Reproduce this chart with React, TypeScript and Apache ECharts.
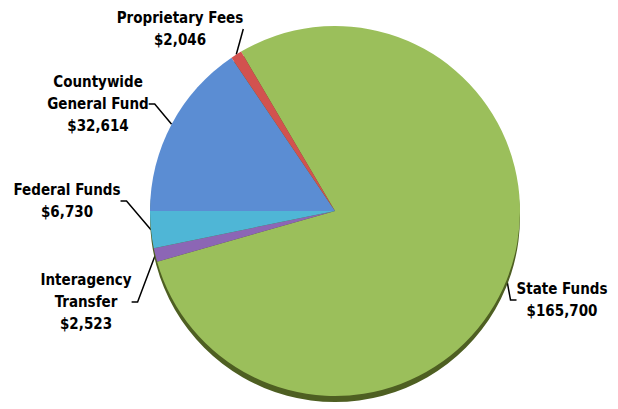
import React, { useEffect, useRef } from "react";
import * as echarts from "echarts";

const categories = [
  "State Funds",
  "Interagency\nTransfer",
  "Federal Funds",
  "Countywide\nGeneral Fund",
  "Proprietary Fees",
];
const values = [165700, 2523, 6730, 32614, 2046];
const colors = ["#9BBF5B", "#8C66B5", "#4FB6D6", "#5B8DD3", "#D2524F"];
const labelPos: [number, number][] = [
  [562, 300],
  [86, 302],
  [67, 201],
  [98, 104],
  [180, 29],
];

const fmt = (v: number) => "$" + v.toLocaleString("en-US");

export default function App() {
  const ref = useRef<HTMLDivElement>(null);
  useEffect(() => {
    const chart = echarts.init(ref.current!, null, { renderer: "svg" });
    const total = values.reduce((a, b) => a + b, 0);
    const font = "'Liberation Sans Narrow', 'Arial Narrow', 'DejaVu Sans Condensed', sans-serif";
    chart.setOption({
      animation: false,
      backgroundColor: "#ffffff",
      series: [
        {
          type: "pie",
          silent: true,
          center: [335, 217],
          radius: 185,
          label: { show: false },
          labelLine: { show: false },
          itemStyle: { color: "#4E5F22", borderWidth: 0 },
          data: [{ name: "edge", value: total }],
        },
        {
          type: "pie",
          center: [335, 211],
          radius: 185,
          startAngle: 120.5,
          clockwise: true,
          avoidLabelOverlap: false,
          itemStyle: { borderWidth: 0 },
          label: {
            show: true,
            formatter: (p: any) => p.name + "\n" + fmt(p.value),
            fontFamily: font,
            fontWeight: "bold",
            fontSize: 15,
            lineHeight: 22,
            color: "#000",
            align: "center",
          },
          labelLine: {
            show: true,
            length: 10,
            length2: 6,
            lineStyle: { color: "#000", width: 1.5 },
          },
          labelLayout: (params: any) => {
            const p = labelPos[params.dataIndex];
            return { x: p[0], y: p[1], align: "center", verticalAlign: "middle" };
          },
          data: categories.map((c, i) => ({
            name: c,
            value: values[i],
            itemStyle: { color: colors[i] },
          })),
        },
      ],
    });
    return () => chart.dispose();
  }, []);
  return (
    <div
      ref={ref}
      style={{ position: "fixed", left: 0, top: 0, width: 618, height: 409 }}
    />
  );
}
